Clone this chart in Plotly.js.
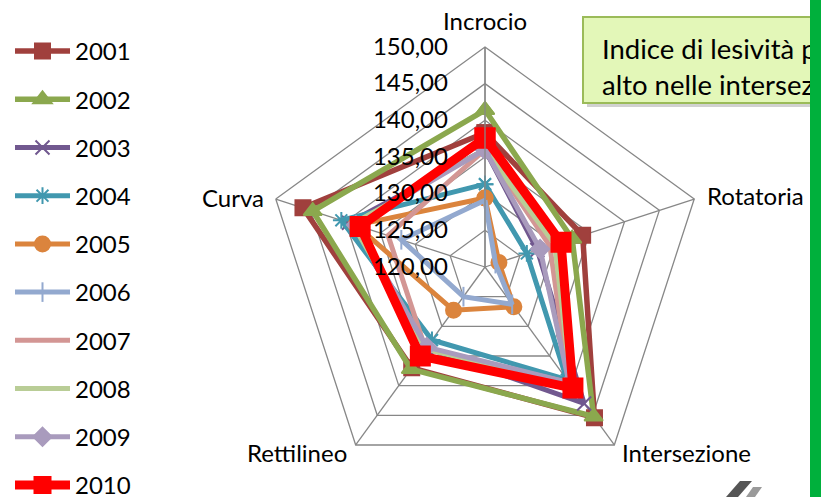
<!DOCTYPE html>
<html>
<head>
<meta charset="utf-8">
<script src="https://cdn.plot.ly/plotly-3.0.1.min.js"></script>
<style>html,body{margin:0;padding:0;background:#fff;}#chart{width:821px;height:497px;}</style>
</head>
<body>
<div id="chart"></div>
<script>
// Categories (clockwise from top)
var categories = ["Incrocio", "Rotatoria", "Intersezione", "Rettilineo", "Curva"];
var years = ["2001","2002","2003","2004","2005","2006","2007","2008","2009","2010"];
// Values per year, in the order of categories
var v2001 = [138.3, 134.0, 145.4, 137.0, 146.1];
var v2002 = [141.4, 132.5, 145.2, 137.2, 144.7];
var v2003 = [136.0, 127.5, 143.0, 133.6, 139.5];
var v2004 = [131.3, 126.0, 139.0, 132.3, 140.6];
var v2005 = [129.4, 122.0, 126.7, 127.3, 138.5];
var v2006 = [129.1, 121.5, 126.3, 125.0, 132.0];
var v2007 = [136.0, 129.3, 139.5, 133.8, 133.9];
var v2008 = [136.0, 130.0, 140.0, 133.8, 139.0];
var v2009 = [136.0, 127.9, 139.5, 133.5, 138.5];
var v2010 = [137.6, 130.9, 140.4, 135.0, 137.9];
var radialTicks = [120, 125, 130, 135, 140, 145, 150];
var noteText = "Indice di lesività più<br>alto nelle intersezioni";

var values = [v2001, v2002, v2003, v2004, v2005, v2006, v2007, v2008, v2009, v2010];
var colors = ["#A0403D", "#8BA84E", "#71588F", "#4198AF", "#DB843D", "#93A9CF", "#D39694", "#B9CD96", "#A99BBD", "#FF0000"];
var symbols = ["square", "triangle-up", "x-thin-open", "asterisk-open", "circle", "line-ns-open", null, null, "diamond", "square"];
var msize = [15, 16, 14, 14, 15, 14, 0, 0, 14, 19];
var lwidth = [5.5, 5.5, 5, 5, 5, 5, 5, 5, 5, 9];

var traces = values.map(function (vals, i) {
  var t = {
    type: "scatterpolar",
    r: vals.concat([vals[0]]),
    theta: categories.concat([categories[0]]),
    name: years[i],
    legendgroup: years[i],
    mode: symbols[i] ? "lines+markers" : "lines",
    line: { color: colors[i], width: lwidth[i] },
    hoverinfo: "name+r+theta"
  };
  if (symbols[i]) {
    t.marker = { symbol: symbols[i], size: msize[i], color: colors[i], line: { color: colors[i], width: 2 } };
  }
  return t;
});

var W = 821, H = 497;
function px(x) { return x / W; }
function py(y) { return 1 - y / H; }
var gray = "#878787";
var FONT = "Lato, 'Open Sans', sans-serif";

// category label placement (text positions only)
var catPos = [
  { x: 485, y: 20, xanchor: "center" },
  { x: 705, y: 195, xanchor: "left" },
  { x: 686, y: 452, xanchor: "center" },
  { x: 297, y: 452, xanchor: "center" },
  { x: 266, y: 197, xanchor: "right" }
];
var annotations = categories.map(function (c, i) {
  return {
    text: c, xref: "paper", yref: "paper", x: px(catPos[i].x), y: py(catPos[i].y),
    xanchor: catPos[i].xanchor, yanchor: "middle", showarrow: false,
    font: { size: 24, color: "#000", family: FONT }
  };
});

var layout = {
  width: W, height: H,
  margin: { l: 0, r: 0, t: 0, b: 0, autoexpand: false },
  paper_bgcolor: "#ffffff",
  separators: ",.",
  font: { family: FONT, size: 24, color: "#000000" },
  showlegend: true,
  legend: {
    x: px(10), y: py(29), xanchor: "left", yanchor: "top",
    font: { size: 24, color: "#000" },
    tracegroupgap: 14, itemwidth: 55, bgcolor: "rgba(0,0,0,0)"
  },
  polar: {
    domain: { x: [px(265), px(705)], y: [py(487), py(47)] },
    bgcolor: "#ffffff",
    gridshape: "linear",
    angularaxis: {
      rotation: 90, direction: "clockwise",
      showline: true, linecolor: gray, linewidth: 1.3,
      showgrid: true, gridcolor: gray, gridwidth: 1.3,
      ticks: "", showticklabels: false
    },
    radialaxis: {
      range: [120, 150], tickvals: radialTicks, tickformat: ".2f",
      angle: 90, side: "counterclockwise", tickangle: 90,
      showline: true, linecolor: gray, linewidth: 1.3,
      showgrid: true, gridcolor: gray, gridwidth: 1.3,
      ticks: "outside", ticklen: 28, tickcolor: "rgba(0,0,0,0)",
      tickfont: { size: 24 }
    }
  },
  annotations: annotations,
  shapes: [
    { type: "rect", xref: "paper", yref: "paper", x0: px(587), x1: px(880), y0: py(21), y1: py(107),
      fillcolor: "rgba(0,0,0,0.18)", line: { width: 0 } },
    { type: "rect", xref: "paper", yref: "paper", x0: px(583), x1: px(880), y0: py(17), y1: py(103),
      fillcolor: "#E3F7B8", line: { color: "#9BBB59", width: 2 } },
    { type: "rect", xref: "paper", yref: "paper", x0: px(583), x1: px(880), y0: py(24), y1: py(108),
      fillcolor: "rgba(0,0,0,0)", line: { width: 0 },
      label: { text: noteText, textposition: "middle left", padding: 16,
               font: { size: 27.5, color: "#000", family: FONT } } },
    { type: "rect", xref: "paper", yref: "paper", x0: px(810), x1: px(821), y0: 0, y1: 1,
      fillcolor: "#00B03C", line: { width: 0 } },
    { type: "path", xref: "paper", yref: "paper",
      path: "M " + px(746) + " " + py(497) + " L " + px(753) + " " + py(487) + " L " + px(762) + " " + py(487) + " L " + px(755) + " " + py(497) + " Z",
      fillcolor: "#9a9a9a", line: { width: 0 } },
    { type: "path", xref: "paper", yref: "paper",
      path: "M " + px(726) + " " + py(497) + " L " + px(740) + " " + py(481) + " L " + px(752) + " " + py(481) + " L " + px(738) + " " + py(497) + " Z",
      fillcolor: "#555555", line: { width: 0 } }
  ]
};

Plotly.newPlot("chart", traces, layout, { displayModeBar: false, staticPlot: true });
</script>
</body>
</html>
